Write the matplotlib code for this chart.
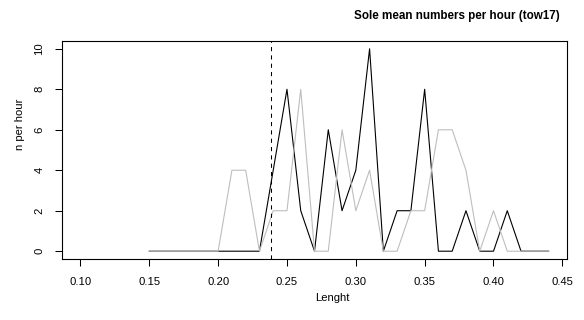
import matplotlib
matplotlib.use("Agg")
import matplotlib.pyplot as plt

plt.rcParams['font.family'] = ['Liberation Sans', 'DejaVu Sans']

# length classes and mean numbers per hour
lengths = [0.15, 0.16, 0.17, 0.18, 0.19, 0.20, 0.21, 0.22, 0.23, 0.24,
           0.25, 0.26, 0.27, 0.28, 0.29, 0.30, 0.31, 0.32, 0.33, 0.34,
           0.35, 0.36, 0.37, 0.38, 0.39, 0.40, 0.41, 0.42, 0.43, 0.44]
tow_black = [0, 0, 0, 0, 0, 0, 0, 0, 0, 4,
             8, 2, 0, 6, 2, 4, 10, 0, 2, 2,
             8, 0, 0, 2, 0, 0, 2, 0, 0, 0]
tow_grey = [0, 0, 0, 0, 0, 0, 4, 4, 0, 2,
            2, 8, 0, 0, 6, 2, 4, 0, 0, 2,
            2, 6, 6, 4, 0, 2, 0, 0, 0, 0]
mean_length = 0.2383

xticks = [0.10, 0.15, 0.20, 0.25, 0.30, 0.35, 0.40, 0.45]
yticks = [0, 2, 4, 6, 8, 10]

fig = plt.figure(figsize=(5.84, 3.2), dpi=100)
ax = fig.add_axes([0.1057, 0.1897, 0.8657, 0.6831])

ax.plot(lengths, tow_black, color='black', lw=0.8)
ax.plot(lengths, tow_grey, color='#bebebe', lw=0.8)
ax.axvline(mean_length, color='black', lw=0.75, linestyle=(0, (4, 4)))

# R-style 4% padding around 0.10-0.44 and 0-10
ax.set_xlim(0.1 - 0.0136, 0.44 + 0.0136)
ax.set_ylim(-0.4, 10.4)

ax.set_xticks(xticks)
ax.set_xticklabels([f'{t:.2f}' for t in xticks])
ax.set_yticks(yticks)
ax.set_yticklabels([str(t) for t in yticks], rotation=90, va='center')
ax.tick_params(length=5, width=0.75, labelsize=8.1, pad=7.5)

for s in ax.spines.values():
    s.set_linewidth(0.8)

fig.text(20 / 584, 1 - 124 / 320, 'n per hour', rotation=90,
         ha='center', va='center', fontsize=8.1)
fig.text(332 / 584, 1 - 298 / 320, 'Lenght', ha='center', va='center',
         fontsize=8.1)
fig.text(560 / 584, 1 - 19.3 / 320, 'Sole mean numbers per hour (tow17)',
         ha='right', va='baseline', fontsize=8.4, fontweight='bold')

plt.savefig('out.png', dpi=100)
